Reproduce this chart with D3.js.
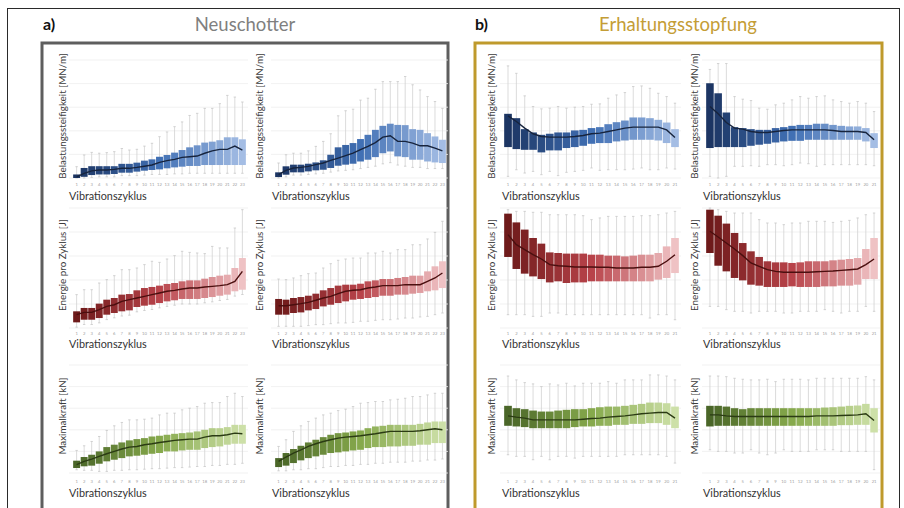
<!DOCTYPE html>
<html><head><meta charset="utf-8">
<script src="https://cdn.jsdelivr.net/npm/d3@7"></script>
<style>body{margin:0;background:#fff}svg{display:block;font-family:Lato,"Open Sans",sans-serif}</style>
</head><body><svg id="c" width="904" height="508"></svg>
<script>
// ---------- categories / tick labels ----------
const cyclesA = ["1","2","3","4","5","6","7","8","9","10","11","12","13","14","15","16","17","18","19","20","21","22","23"];
const cyclesB = ["1","2","3","4","5","6","7","8","9","10","11","12","13","14","15","16","17","18","19","20","21"];
const panelTitles = ["Neuschotter","Erhaltungsstopfung"];
const panelLetters = ["a)","b)"];
const yLabels = ["Belastungssteifigkeit [MN/m]","Energie pro Zyklus [J]","Maximalkraft [kN]"];
const xLabel = "Vibrationszyklus";
const gridValues = [0,20,40,60,80,100];

// ---------- values (relative units 0-100, no y scale shown) ----------
const A1_hi  = [9.6,19.5,21.7,21,21.5,22.3,25,23.7,24.3,27,29.4,35,39,43.5,47.5,53,54.8,59,59,63,70,68.6,64.4];
const A1_q3  = [3,8.5,10,10,10,10,12,12,13,14.7,15.8,18,19.5,21.5,23.7,26,27.7,30,30.8,32,34.5,34.5,32.8];
const A1_med = [1,4,6,6.8,6.8,7.3,8.2,8.2,9,10,11,13.3,14.7,15.8,17.5,18,18.6,21,23,24.3,24.3,27,23.7];
const A1_q1  = [0,1,2.5,3,3,3.4,4.5,4.5,5.4,6.2,6.8,7.3,8.2,9,9.6,10.2,10.2,11,11,11,11,11,11];
const A1_lo  = [0,0,0.5,1,1,1,2,2,2,2.5,3,3,3,3.5,3.5,4,4,4,4,4,4,4,4];
const A2_hi  = [12.7,19.7,21,21,23,26.8,31,37.5,52.7,57,58.3,66,67.6,75.2,81.7,81.7,81.7,86,79,74.6,69,64.8,59];
const A2_q3  = [4.8,9.9,11.3,11.3,12.1,13.2,15,19.7,26,28,29.6,33,36.6,40.8,44.2,46,45,44.8,41.4,40.8,38,35.2,32.4];
const A2_med = [2.8,6.5,8.5,9,9.9,11.3,12.7,15,16.9,18.9,21,24,26.8,30,34.6,35.8,31,31,29.6,27.3,27.3,25.3,23];
const A2_q1  = [0.8,2.8,4.8,4.8,5.6,6.5,7,8.5,10.4,11.3,12.1,14,15.5,17.7,21,22.5,18.3,17.7,15.5,15.5,14,13.2,12.7];
const A2_lo  = [0,1,2.5,2.5,3,3.5,4,5,6,6.5,7,8,9,10,12,13,11,10,9,9,8,8,8];
const B1_hi  = [95,88.7,69.6,60.6,58.6,59.2,60.6,59.2,60,60.6,62.5,62.8,67.6,70.4,72.4,77.5,78,76,71.8,69,63.4];
const B1_q3  = [54.4,50.7,41.4,38.6,36.6,37.5,38.6,38.6,40.3,40.8,42.3,43.1,45.6,47.3,48.7,51.3,51.3,50.7,49.3,47,41.4];
const B1_med = [52.7,47.9,42.3,37.5,35.2,34.6,34.6,34.6,35.2,36,37.5,38,39.4,40.8,42.3,43.1,43.1,43.1,43.1,40.8,34.4];
const B1_q1  = [26.2,24.5,23.9,23.9,21.7,23.4,23.4,25.4,26.2,27.3,29,29.6,29.6,31,31.8,32.4,32.4,32.4,31.8,29.6,26.2];
const B1_lo  = [1.4,7,4.2,5.6,2.8,5.6,2,4.8,5.6,6.5,8.5,6.5,7,7,7,7.6,8.5,7,7,8.5,7.6];
const B2_hi  = [92,97,97,69,66.8,65.6,59.2,58.3,62,63.4,66.2,69,67.6,69,69.6,66.2,64.8,63.4,64.8,63.4,56.3];
const B2_q3  = [80.3,71.8,55.5,43.1,42.3,41.4,40.8,40.8,42.3,43.1,44.2,45,45,46,46,45,44.2,43.7,43.7,42.3,38];
const B2_med = [60.6,54.4,47,42.3,41.4,39.4,38.6,38.6,39.4,40.3,40.8,40.8,40.8,40.8,40.8,40.3,39.4,39.4,39.4,38.6,32.4];
const B2_q1  = [25.4,26.2,26.2,26.2,26.2,27.3,28.2,29,30.1,31,31.5,31.5,32.4,32.4,32.4,32.4,32.4,32.4,32.4,31,25.4];
const B2_lo  = [1.4,0,1.4,9.9,9.9,10.4,9.9,11.3,11.3,10.4,11.3,12.7,12.1,9.9,11.3,11.3,11.3,11.3,11.3,11.3,10.4];
const A3_hi  = [27.8,31.9,31.9,37.5,40.3,43.6,48.6,48.6,50,52.8,55.6,54.7,57.5,60.3,63.9,63,62.5,62,68,66.7,66.7,83.3,98.6];
const A3_q3  = [13.9,16.7,16.7,20.3,23.6,25,27.8,28.3,31.4,33.3,34.2,35.3,36.7,37.5,38.9,39.7,39.7,41.1,42.5,43.6,44.4,50,58.3];
const A3_med = [11.1,13,13,15.3,18,19.4,22.2,23.6,25,26.4,27.8,29.2,30.6,31.4,32.5,33.3,33.3,34.2,34.7,35.3,36.1,38.9,47.2];
const A3_q1  = [4.7,6.9,6.9,8.3,11.1,12.5,13.9,14.7,17.5,18.6,19.4,20.8,22.2,23.1,24.2,24.2,24.2,25,25.8,26.9,27.8,30.6,31.9];
const A3_lo  = [0.7,2.9,2.9,4.3,7,8.5,10,10.7,13.5,14.6,15.4,16.8,18,19,20,20,20,21,21.8,22.9,23.8,26.6,27.9];
const A4_hi  = [40.8,40.3,41.7,43.6,45.3,45.8,50,53.6,56.4,57.5,58.3,58.3,62.5,62.5,63.9,62.5,65.3,65.3,69.4,69.4,74.2,79.7,88.9];
const A4_q3  = [24.2,23.6,25,25.8,26.9,28.6,31.4,33.3,35.3,36.1,36.1,36.9,38.9,39.7,40.8,40.8,41.7,42.5,43.6,43.6,47.2,51.4,55.6];
const A4_med = [18.6,18.6,19.4,20.3,21.4,23.1,25,26.4,28.6,30.6,31.4,31.9,33.3,34.2,35.3,35.3,35.3,36.1,36.1,36.1,38.9,41.7,45.8];
const A4_q1  = [11.1,11.1,12.5,13,14.7,15.8,18,19.4,20.8,22.2,23.6,24.2,25,25.8,26.9,26.9,27.8,27.8,28.6,29.2,30.6,31.4,33.3];
const A4_lo  = [1.4,1.4,1.4,1.4,2,2.8,2.8,3.6,4.2,4.2,4.7,5.6,5.6,6.4,6.9,6.9,7.5,8.3,8.3,9.2,9.7,11.1,12.5];
const B3_hi  = [98.6,97.2,97.2,96.4,96.4,94.4,94.4,94.4,94.4,93.6,90.3,91.7,93,93,93,93,93.6,93.6,94.4,95.8,97.2];
const B3_q3  = [95.3,88,82,75,70.3,63,62.5,62,62,62,61.1,61.1,60.3,60.3,59.7,60.3,61.1,61.1,62.5,68,75];
const B3_med = [77.8,69.4,65.3,61.1,57.5,52.8,51.9,51.4,50.8,50.8,50.8,50.6,50.6,50,50,50,50.6,50.6,51.4,55.6,61.1];
const B3_q1  = [59.2,49.2,45.3,43,40.8,38,38.9,37.5,38,38,38.9,38.9,38.9,38.9,38.9,38.9,38.9,38.9,40.3,41.7,45.8];
const B3_lo  = [11.1,11.1,11.1,9.7,9.7,12.5,12.5,11.1,11.1,11.1,11.1,11.1,11.1,11.1,11.1,11.1,11.1,8.3,11.1,11.1,6.9];
const B4_hi  = [100,98.6,97.2,95.8,95.8,95.8,90.3,87.5,87.5,86.1,87.5,87.5,88.9,88.9,88.9,88,88.9,89.7,91.7,94.4,95.8];
const B4_q3  = [98.6,93.6,87,79.2,70.8,63.9,59.2,55.6,54.7,54.7,54.2,54.7,55.6,55.6,55.6,56.4,56.9,57.5,58.3,65.8,75];
const B4_med = [80.6,75.8,70.8,65.8,60.3,54.2,51.4,48.6,47.2,46.4,46.4,46.4,46.4,46.9,47.2,47.5,48,48.6,49.2,52.8,57.5];
const B4_q1  = [62.5,51.9,47.2,41.7,39.7,36.1,35.3,34.2,34.2,34.2,34.7,34.2,34.2,34.2,34.7,34.7,35.3,35.3,36.1,40.8,40.8];
const B4_lo  = [18,18,15.3,13.9,13.9,12.5,13.9,13.9,13.9,12.5,12.5,13.9,13.9,13.9,15.3,13.9,12.5,13.9,13.9,18,13.9];
const A5_hi  = [20.9,25.2,29.2,33.8,39.4,43.7,46.8,49.2,49.2,49.8,50.8,53.8,55.4,55.4,58.5,60,61.5,64.6,65.2,65.2,70.8,73.8,70.8];
const A5_q3  = [11.4,14.8,16.9,20,24,26.2,28.3,30.2,31.4,32.3,33.8,34.5,35.4,36.3,36.9,37.5,38.5,40,41.5,41.5,42.5,44.6,44.6];
const A5_med = [7.7,10.8,12.9,15.4,17.8,20,22.2,24,24.6,26.2,27.1,28.3,29.2,30.2,30.8,31.4,31.4,33.2,34.5,34.5,35.4,36.9,36.3];
const A5_q1  = [4.6,6.2,6.8,8.6,10.8,12.3,13.8,15.4,16,16.9,17.8,18.5,20,20,20.9,21.5,21.5,23.1,24,24.6,26.2,27.1,27.1];
const A5_lo  = [3,2.5,2.5,1.5,1.5,2.5,2.5,3,3,3.5,4,4,4.5,5,5,5.5,6,6,7,7,8,8,9];
const A6_hi  = [24.6,30.8,38.5,43.7,47.7,50.8,53.8,55.4,57.8,59.1,61.5,64.6,65.2,66.2,66.2,67.7,68.3,69.2,70.8,70.8,72.3,73.8,73.8];
const A6_q3  = [13.8,18.5,22.2,25.2,28.3,30.8,33.2,35.4,36.9,37.5,38.5,39.4,41.5,43.1,43.7,44.6,44.6,44.6,44.6,45.5,46.8,47.7,47.7];
const A6_med = [10.8,14.8,18.5,21.5,24.6,27.1,29.2,30.8,32.3,33.2,33.8,34.5,35.4,36.3,37.5,38.5,38.5,38.5,38.5,39.1,40,40.9,40];
const A6_q1  = [5.5,6.8,9.2,11.7,13.8,15.4,16.9,18.5,19.1,20,20.9,21.5,23.1,24,24,24.6,24.6,25.2,25.2,26.2,26.2,27.7,27.7];
const A6_lo  = [2,2,3,3,4,4,5,6,6,7,7,8,8,9,9,10,10,10,11,11,12,12,13];
const B5_hi  = [89.8,86.2,83.7,82.5,80,82.5,81.5,83.1,80.6,83.1,83.1,83.1,84.6,83.1,86.2,86.2,86.2,90.8,90.8,89.8,86.2];
const B5_q3  = [62.2,60,59.1,57.8,56.9,56.9,57.8,58.5,59.1,59.1,60,60.9,61.5,61.5,62.2,63.1,64,65.2,65.2,64.6,61.5];
const B5_med = [52.9,51.7,50.8,49.2,49.2,49.2,49.2,49.2,49.2,49.8,50.5,50.8,51.7,52.3,52.9,53.8,54.8,55.4,56,56,50.8];
const B5_q1  = [43.7,43.1,42.5,41.5,41.5,41.5,41.5,41.5,42.5,43.1,43.1,43.7,43.7,44.6,44.6,45.5,45.5,46.2,46.2,44.6,41.5];
const B5_lo  = [16.9,15.4,15.4,12.3,15.4,12.3,15.4,15.4,13.8,15.4,15.4,15.4,15.4,15.4,16.9,16.9,16.9,16.9,16.9,15.4,9.2];
const B6_hi  = [89.8,89.8,89.2,87.7,86.8,86.2,86.2,86.8,84.6,86.8,86.8,86.8,86.2,87.7,87.7,87.7,87.7,87.7,87.7,89.2,86.2];
const B6_q3  = [62.2,62.2,61.5,60,59.1,60,60,60,60,60,60,60,60,60,60.6,60.9,61.5,62.2,62.5,64,60];
const B6_med = [53.8,53.8,52.9,52.3,52.3,52.3,52.3,52.3,52.3,52.3,52.3,52.3,52.3,52.9,52.9,52.9,53.2,53.5,53.8,54.8,48.6];
const B6_q1  = [43.1,43.7,43.7,43.7,43.7,43.7,43.7,43.7,43.7,43.7,43.7,43.7,43.7,43.7,43.7,43.7,44.3,44.3,44.6,44.6,37.5];
const B6_lo  = [21.5,20,20,18.5,18.5,21.5,18.5,16.9,18.5,21.5,20,20,20,21.5,21.5,21.5,20,20,20,20,3.1];

// ---------- palettes (dark -> mid -> light) ----------
const palettes = {
  blue:  {stops:["#1c3563","#4170b4","#a4bde4"], line:"#17243d"},
  red:   {stops:["#6e1a1a","#b8434a","#efc2c4"], line:"#4a0f0f"},
  green: {stops:["#4a6628","#86a94c","#cde0a8"], line:"#2b3b14"}
};

// ---------- layout ----------
const colX = [[73,246],[275,446],[504,679],[706,878]];
const rowY = [[60,178],[208,328],[365,473]];
const yLabelX = [62,259,491,694];
const xLabelX = [69,272,502,703];
const xLabelBase = [200,348,497];
const tickLabelY = [186,335,483];

const charts = [
  {col:0,row:0,cats:cyclesA,lo:A1_lo,q1:A1_q1,med:A1_med,q3:A1_q3,hi:A1_hi,pal:"blue"},
  {col:1,row:0,cats:cyclesA,lo:A2_lo,q1:A2_q1,med:A2_med,q3:A2_q3,hi:A2_hi,pal:"blue"},
  {col:2,row:0,cats:cyclesB,lo:B1_lo,q1:B1_q1,med:B1_med,q3:B1_q3,hi:B1_hi,pal:"blue"},
  {col:3,row:0,cats:cyclesB,lo:B2_lo,q1:B2_q1,med:B2_med,q3:B2_q3,hi:B2_hi,pal:"blue"},
  {col:0,row:1,cats:cyclesA,lo:A3_lo,q1:A3_q1,med:A3_med,q3:A3_q3,hi:A3_hi,pal:"red"},
  {col:1,row:1,cats:cyclesA,lo:A4_lo,q1:A4_q1,med:A4_med,q3:A4_q3,hi:A4_hi,pal:"red"},
  {col:2,row:1,cats:cyclesB,lo:B3_lo,q1:B3_q1,med:B3_med,q3:B3_q3,hi:B3_hi,pal:"red"},
  {col:3,row:1,cats:cyclesB,lo:B4_lo,q1:B4_q1,med:B4_med,q3:B4_q3,hi:B4_hi,pal:"red"},
  {col:0,row:2,cats:cyclesA,lo:A5_lo,q1:A5_q1,med:A5_med,q3:A5_q3,hi:A5_hi,pal:"green"},
  {col:1,row:2,cats:cyclesA,lo:A6_lo,q1:A6_q1,med:A6_med,q3:A6_q3,hi:A6_hi,pal:"green"},
  {col:2,row:2,cats:cyclesB,lo:B5_lo,q1:B5_q1,med:B5_med,q3:B5_q3,hi:B5_hi,pal:"green"},
  {col:3,row:2,cats:cyclesB,lo:B6_lo,q1:B6_q1,med:B6_med,q3:B6_q3,hi:B6_hi,pal:"green"}
];

const svg = d3.select("#c");

svg.append("rect").attr("x",7.5).attr("y",8.5).attr("width",892).attr("height",520)
  .attr("fill","none").attr("stroke","#2a2a2a").attr("stroke-width",1);

const frames = [
  {x:42, w:406, color:"#5e5e5e", title:"#7f7f7f", tx:245, lx:43},
  {x:475, w:407, color:"#bf9a2c", title:"#c49d36", tx:678, lx:475}
];
frames.forEach((f,i)=>{
  svg.append("rect").attr("x",f.x).attr("y",43).attr("width",f.w).attr("height",490)
    .attr("fill","none").attr("stroke",f.color).attr("stroke-width",3);
  svg.append("text").attr("x",f.tx).attr("y",31).attr("text-anchor","middle")
    .attr("font-size",18.5).attr("fill",f.title).text(panelTitles[i]);
  svg.append("text").attr("x",f.lx).attr("y",30).attr("font-size",16).attr("font-weight","bold")
    .attr("fill","#111").text(panelLetters[i]);
});

charts.forEach(c=>{
  const [x0,x1] = colX[c.col], [yT,yB] = rowY[c.row];
  const x = d3.scaleBand().domain(c.cats).range([x0,x1]).paddingInner(0.08).paddingOuter(0.02);
  const y = d3.scaleLinear().domain([0,100]).range([yB,yT]);
  const pal = palettes[c.pal];
  const n = c.cats.length-1;
  const color = d3.scaleLinear().domain([0,n/2,n]).range(pal.stops).interpolate(d3.interpolateRgb);
  const g = svg.append("g");

  g.selectAll(".grid").data(gridValues).join("line")
    .attr("x1",x0-4).attr("x2",x1+2).attr("y1",d=>y(d)).attr("y2",d=>y(d))
    .attr("stroke","#ededed").attr("stroke-width",0.8);

  const data = c.cats.map((k,i)=>({k,i,lo:c.lo[i],q1:c.q1[i],med:c.med[i],q3:c.q3[i],hi:c.hi[i]}));
  const cx = d=>x(d.k)+x.bandwidth()/2;

  g.selectAll(".wh").data(data).join("line")
    .attr("x1",cx).attr("x2",cx).attr("y1",d=>y(d.lo)).attr("y2",d=>y(d.hi))
    .attr("stroke","#d2d2d2").attr("stroke-width",0.8);
  g.selectAll(".capH").data(data).join("line")
    .attr("x1",d=>cx(d)-1.2).attr("x2",d=>cx(d)+1.2).attr("y1",d=>y(d.hi)).attr("y2",d=>y(d.hi))
    .attr("stroke","#c8c8c8").attr("stroke-width",0.8);
  g.selectAll(".capL").data(data).join("line")
    .attr("x1",d=>cx(d)-1.2).attr("x2",d=>cx(d)+1.2).attr("y1",d=>y(d.lo)).attr("y2",d=>y(d.lo))
    .attr("stroke","#c8c8c8").attr("stroke-width",0.8);

  g.selectAll(".box").data(data).join("rect")
    .attr("x",d=>x(d.k)).attr("width",x.bandwidth())
    .attr("y",d=>y(d.q3)).attr("height",d=>y(d.q1)-y(d.q3))
    .attr("fill",d=>color(d.i));

  const line = d3.line().x(cx).y(d=>y(d.med));
  g.append("path").datum(data).attr("d",line).attr("fill","none")
    .attr("stroke",pal.line).attr("stroke-width",1.4);

  g.selectAll(".tl").data(data).join("text")
    .attr("x",cx).attr("y",tickLabelY[c.row]).attr("text-anchor","middle")
    .attr("font-size",4.2).attr("fill","#a0a0a0").text(d=>d.k);

  g.append("text").attr("transform",`translate(${yLabelX[c.col]},${(yT+yB)/2-3}) rotate(-90)`)
    .attr("text-anchor","middle").attr("dominant-baseline","central")
    .attr("font-size",9.8).attr("fill","#3c3c3c").text(yLabels[c.row]);
  g.append("text").attr("x",xLabelX[c.col]).attr("y",xLabelBase[c.row])
    .attr("font-size",10.8).attr("fill","#333").text(xLabel);
});
</script></body></html>
